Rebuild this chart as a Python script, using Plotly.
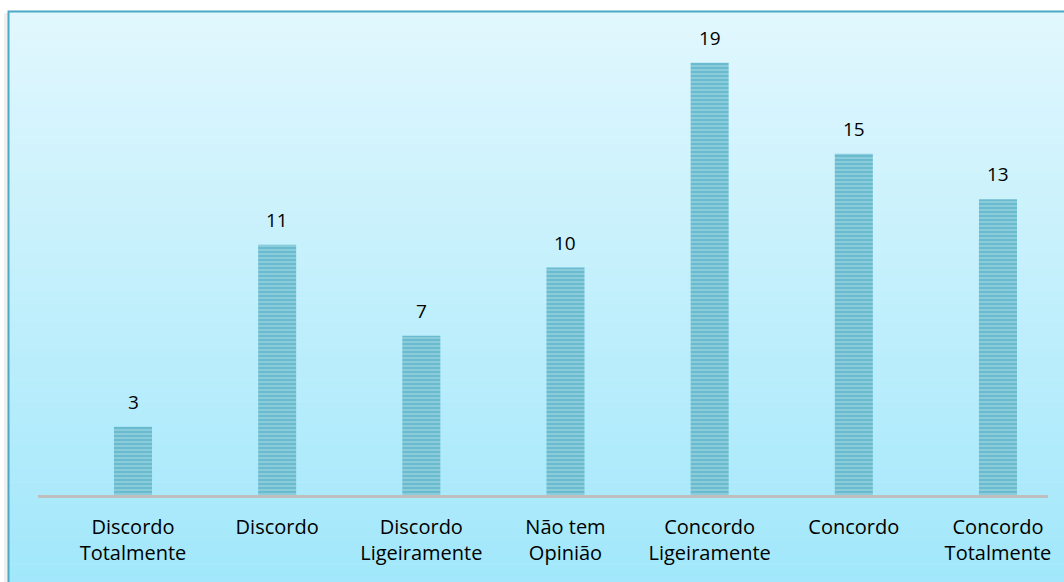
import plotly.graph_objects as go

categories = ["Discordo<br>Totalmente", "Discordo", "Discordo<br>Ligeiramente",
              "Não tem<br>Opinião", "Concordo<br>Ligeiramente", "Concordo",
              "Concordo<br>Totalmente"]
values = [3, 11, 7, 10, 19, 15, 13]

W, H = 1064, 582
# plot area in pixels
PL, PR, PT, PB = 38, 1048, 40, 495
FONT = "Open Sans"

fig = go.Figure()
fig.add_trace(go.Bar(
    x=list(range(len(categories))), y=values, width=0.264,
    marker=dict(color="#6DBCD1", line=dict(width=0),
                pattern=dict(shape="-", fgcolor="#B4E0EA", bgcolor="#6ABBD0",
                             size=4, solidity=0.45, fillmode="overlay")),
    hoverinfo="skip",
))

for i, v in enumerate(values):
    fig.add_annotation(x=i, y=v, text=str(v), showarrow=False, yshift=25,
                       font=dict(size=19, color="#000000", family=FONT))

def px2paper_x(px):
    return (px - PL) / (PR - PL)

def px2paper_y(py):
    return (PB - py) / (PB - PT)

shapes = []
top_c = (225, 247, 253)
bot_c = (160, 231, 251)
box_top, box_bot = 11, 600
n = 80
for k in range(n):
    y0 = box_top + (box_bot - box_top) * k / n
    y1 = box_top + (box_bot - box_top) * (k + 1) / n + 0.6
    t = k / (n - 1)
    c = tuple(int(round(top_c[j] + (bot_c[j] - top_c[j]) * t)) for j in range(3))
    shapes.append(dict(type="rect", xref="paper", yref="paper", layer="below",
                       x0=px2paper_x(8), x1=px2paper_x(1080),
                       y0=px2paper_y(y1), y1=px2paper_y(y0),
                       line=dict(width=0), fillcolor="rgb(%d,%d,%d)" % c))
shapes.append(dict(type="rect", xref="paper", yref="paper", layer="below",
                   x0=px2paper_x(4), x1=px2paper_x(8),
                   y0=px2paper_y(600), y1=px2paper_y(13),
                   line=dict(width=0), fillcolor="rgba(0,0,0,0.06)"))
shapes.append(dict(type="rect", xref="paper", yref="paper", layer="below",
                   x0=px2paper_x(8.5), x1=px2paper_x(1090),
                   y0=px2paper_y(620), y1=px2paper_y(11.5),
                   line=dict(width=2, color="#4BA9C3"), fillcolor="rgba(0,0,0,0)"))

fig.update_layout(
    width=W, height=H,
    margin=dict(l=PL, r=W - PR, t=PT, b=H - PB),
    paper_bgcolor="white", plot_bgcolor="rgba(0,0,0,0)",
    showlegend=False,
    shapes=shapes,
    xaxis=dict(range=[-0.659, 6.347], tickmode="array",
               tickvals=list(range(len(categories))), ticktext=categories,
               showline=True, linecolor="#BFBFBF", linewidth=3,
               showgrid=False, zeroline=False, ticks="",
               ticklabelstandoff=12,
               tickfont=dict(size=20, color="#000000", family=FONT),
               fixedrange=True),
    yaxis=dict(range=[0, 20], visible=False, showgrid=False, zeroline=False,
               fixedrange=True),
    font=dict(family=FONT),
)

fig.write_html("out.html", config={"displayModeBar": False},
               post_script="document.body.style.margin='0';document.body.style.padding='0';")
